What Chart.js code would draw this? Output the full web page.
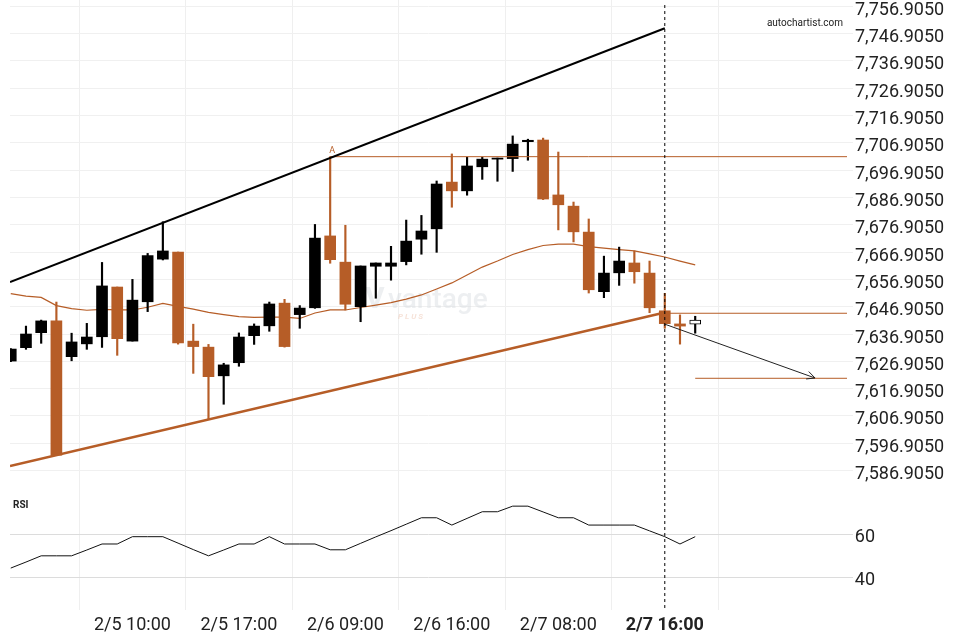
<!DOCTYPE html>
<html>
<head>
<meta charset="utf-8">
<script src="https://cdn.jsdelivr.net/npm/chart.js@4.4.1/dist/chart.umd.min.js"></script>
<style>
  html, body { margin: 0; padding: 0; background: #fff; }
  #wrap { width: 960px; height: 640px; }
</style>
</head>
<body>
<div id="wrap"><canvas id="chart" width="960" height="640"></canvas></div>
<script>
// hourly candles, index 0..45
const opens = [7627.0,7631.9,7637.4,7641.7,7628.6,7633.3,7635.9,7654.1,7634.3,7648.7,7664.3,7666.9,7634.3,7632.1,7621.6,7626.4,7636.3,7639.9,7648.2,7644.0,7646.5,7672.8,7663.2,7646.9,7661.7,7661.7,7663.4,7671.6,7675.4,7692.5,7689.3,7698.1,7700.9,7701.1,7707.3,7707.9,7687.8,7683.7,7674.2,7652.4,7659.3,7662.9,7659.2,7645.4,7640.6,7640.5];
const highs = [7631.6,7639.8,7642.0,7648.6,7637.2,7640.8,7663.1,7654.1,7656.9,7666.4,7678.0,7666.9,7640.5,7633.1,7626.2,7637.3,7640.6,7648.6,7649.6,7647.3,7677.0,7701.8,7676.7,7661.8,7662.9,7669.0,7678.6,7680.3,7692.9,7702.8,7701.6,7701.6,7701.3,7709.4,7708.2,7708.6,7703.5,7685.2,7679.0,7665.4,7668.7,7667.3,7663.6,7651.8,7643.9,7643.4];
const lows = [7626.8,7631.3,7633.5,7592.6,7627.1,7631.3,7632.0,7629.1,7634.3,7645.1,7664.0,7633.2,7622.5,7605.8,7611.2,7625.1,7633.1,7637.9,7632.1,7639.0,7646.3,7662.8,7645.7,7641.4,7650.0,7656.6,7662.2,7666.1,7666.8,7683.3,7687.7,7693.5,7692.8,7696.4,7700.5,7686.1,7675.0,7670.6,7651.9,7650.2,7654.7,7655.5,7644.7,7639.0,7633.2,7637.2];
const closes = [7631.4,7636.9,7641.7,7592.6,7634.0,7635.8,7654.5,7635.2,7649.3,7665.6,7667.3,7633.6,7632.3,7621.3,7625.6,7635.8,7639.8,7647.9,7632.3,7646.4,7672.0,7664.1,7647.8,7661.8,7662.9,7662.9,7670.9,7674.6,7691.8,7689.3,7698.4,7700.9,7701.3,7706.4,7707.8,7686.3,7684.2,7674.3,7653.1,7659.2,7663.6,7659.7,7646.5,7640.7,7639.8,7642.0];

// moving average and RSI
const maValues = [7651.7,7650.8,7650.3,7647.3,7646.2,7645.6,7645.9,7645.7,7645.7,7646.7,7648.1,7647.0,7646.0,7644.8,7644.0,7643.3,7643.0,7643.1,7643.1,7642.6,7644.6,7645.7,7645.7,7646.6,7647.5,7648.4,7649.7,7651.2,7653.4,7655.6,7658.5,7661.4,7663.6,7666.0,7667.8,7669.3,7669.8,7669.8,7668.9,7668.3,7667.8,7667.3,7666.2,7665.1,7663.6,7662.2];
const rsiValues = [44.6,47.4,50.3,50.3,50.3,53.0,55.8,55.8,59.2,59.2,59.2,56.2,53.2,50.3,53.0,55.8,55.8,59.2,55.8,55.8,55.8,53.1,53.1,56.1,59.1,62.0,65.0,68.0,68.0,64.6,67.7,70.8,70.8,73.4,73.4,70.7,68.0,68.0,64.6,64.6,64.6,64.6,61.9,59.2,55.8,59.2];

// pattern lines
const resistanceLine = [{x: -0.05, y: 7655.9}, {x: 43, y: 7748.8}];
const supportLine = [{x: -0.05, y: 7588.6}, {x: 43, y: 7644.8}];
const pointA = {x: 21, y: 7701.8};
const priceLevel = 7644.5;
const targetLevel = 7620.7;
const forecastLine = [{x: 43, y: 7640.5}, {x: 52.88, y: 7620.8}];
const signalIndex = 43;

// axis ticks
const timeTickIdx = [8, 15, 22, 29, 36, 43];
const timeTickLabels = ['2/5 10:00', '2/5 17:00', '2/6 09:00', '2/6 16:00', '2/7 08:00', '2/7 16:00'];
const priceTicks = [7756.905, 7746.905, 7736.905, 7726.905, 7716.905, 7706.905, 7696.905, 7686.905, 7676.905, 7666.905, 7656.905, 7646.905, 7636.905, 7626.905, 7616.905, 7606.905, 7596.905, 7586.905];
const rsiTicks = [60, 40];

// view window
const xMin = -0.05, xMax = 54.98;
const priceMin = 7535.9, priceMax = 7759.14;
const rsiMin = 25.1, rsiMax = 308.8;

const ORANGE = '#b65d27';
const lastIdx = opens.length - 1;

function candleColor(i) {
    if (i === lastIdx) return '#fff';
    return closes[i] >= opens[i] ? '#000' : ORANGE;
}

const bodies = opens.map((o, i) => ({x: i, y: [o, closes[i]]}));
const wicks = lows.map((l, i) => ({x: i, y: [l, highs[i]]}));
const ma = maValues.map((v, i) => ({x: i, y: v}));
const rsi = rsiValues.map((v, i) => ({x: i, y: v}));

// no extra room for edge labels, the plot fills the canvas
function noPadding(s) {
    s.paddingTop = 0;
    s.paddingBottom = 0;
    s.paddingLeft = 0;
    s.paddingRight = 0;
}

const overlay = {
    id: 'overlay',
    beforeDatasetsDraw(chart) {
        const c = chart.ctx;
        c.save();
        // watermark
        c.fillStyle = 'rgba(215,220,223,0.45)';
        c.font = 'bold 30px Roboto';
        c.textBaseline = 'alphabetic';
        c.fillText('V', 365, 308);
        c.font = '500 28px Roboto';
        c.fillText('vantage', 388, 308);
        c.fillStyle = 'rgba(240,200,180,0.5)';
        c.font = 'italic bold 8px Roboto';
        c.fillText('P L U S', 398, 319);
        c.restore();
    },
    afterDatasetsDraw(chart) {
        const c = chart.ctx;
        const xs = chart.scales.x, ys = chart.scales.y;
        c.save();
        // arrow head on forecast line
        const pts = chart.getDatasetMeta(chart.data.datasets.findIndex(d => d.id === 'forecast')).data;
        const p0 = pts[0], p1 = pts[1];
        const ang = Math.atan2(p1.y - p0.y, p1.x - p0.x);
        c.strokeStyle = '#222';
        c.lineWidth = 1;
        c.beginPath();
        c.moveTo(p1.x - 9 * Math.cos(ang - 0.45), p1.y - 9 * Math.sin(ang - 0.45));
        c.lineTo(p1.x, p1.y);
        c.lineTo(p1.x - 9 * Math.cos(ang + 0.45), p1.y - 9 * Math.sin(ang + 0.45));
        c.stroke();
        // point A label
        c.fillStyle = ORANGE;
        c.font = '9px Roboto';
        c.textAlign = 'center';
        c.textBaseline = 'bottom';
        c.fillText('A', xs.getPixelForValue(pointA.x) + 2, ys.getPixelForValue(pointA.y) - 1);
        // captions
        c.fillStyle = '#222';
        c.font = '10px Roboto';
        c.textAlign = 'right';
        c.textBaseline = 'middle';
        c.fillText('autochartist.com', 843, 23);
        c.font = 'bold 10px Roboto';
        c.textAlign = 'left';
        c.fillText('RSI', 13, 505);
        c.restore();
    }
};

new Chart(document.getElementById('chart').getContext('2d'), {
    type: 'bar',
    data: {
        datasets: [{
            type: 'bar',
            data: wicks,
            grouped: false,
            barThickness: 1.5,
            backgroundColor: ctx => ctx.dataIndex === lastIdx ? '#000' : candleColor(ctx.dataIndex),
            borderWidth: 0,
            yAxisID: 'y',
            order: 3
        }, {
            type: 'bar',
            data: bodies,
            grouped: false,
            barThickness: 11,
            backgroundColor: ctx => candleColor(ctx.dataIndex),
            borderColor: '#000',
            borderWidth: ctx => ctx.dataIndex === lastIdx ? 1 : 0,
            borderSkipped: false,
            yAxisID: 'y',
            order: 2
        }, {
            type: 'line',
            data: ma,
            borderColor: ORANGE,
            borderWidth: 1.2,
            pointRadius: 0,
            yAxisID: 'y',
            order: 4
        }, {
            type: 'line',
            data: resistanceLine,
            borderColor: '#000',
            borderWidth: 2,
            pointRadius: 0,
            yAxisID: 'y',
            order: 1
        }, {
            type: 'line',
            data: supportLine,
            borderColor: ORANGE,
            borderWidth: 2.5,
            pointRadius: 0,
            yAxisID: 'y',
            order: 1
        }, {
            type: 'line',
            data: [{x: pointA.x, y: pointA.y}, {x: xMax, y: pointA.y}],
            borderColor: ORANGE,
            borderWidth: 1,
            pointRadius: 0,
            yAxisID: 'y',
            order: 1
        }, {
            type: 'line',
            data: [{x: signalIndex, y: priceLevel}, {x: xMax, y: priceLevel}],
            borderColor: ORANGE,
            borderWidth: 1,
            pointRadius: 0,
            yAxisID: 'y',
            order: 5
        }, {
            type: 'line',
            data: [{x: lastIdx, y: targetLevel}, {x: xMax, y: targetLevel}],
            borderColor: ORANGE,
            borderWidth: 1,
            pointRadius: 0,
            yAxisID: 'y',
            order: 1
        }, {
            id: 'forecast',
            type: 'line',
            data: forecastLine,
            borderColor: '#222',
            borderWidth: 1,
            pointRadius: 0,
            yAxisID: 'y',
            order: 1
        }, {
            type: 'line',
            data: [{x: signalIndex, y: 7757.3}, {x: signalIndex, y: priceMin}],
            borderColor: '#000',
            borderWidth: 1,
            borderDash: [3, 3],
            pointRadius: 0,
            yAxisID: 'y',
            order: 0
        }, {
            type: 'line',
            data: rsi,
            borderColor: '#111',
            borderWidth: 1,
            pointRadius: 0,
            yAxisID: 'y2',
            order: 1
        }]
    },
    options: {
        responsive: false,
        animation: false,
        layout: { padding: { left: 10, top: 0, right: 0, bottom: 0 } },
        plugins: {
            legend: { display: false },
            tooltip: { enabled: false }
        },
        scales: {
            x: {
                type: 'linear',
                min: xMin,
                max: xMax,
                offset: false,
                afterBuildTicks: s => { s.ticks = timeTickIdx.map(v => ({value: v})); },
                afterFit: s => { s.height = 30; noPadding(s); },
                ticks: {
                    autoSkip: false,
                    maxRotation: 0,
                    padding: 5,
                    color: '#222',
                    callback: v => timeTickLabels[timeTickIdx.indexOf(v)],
                    font: ctx => ({family: 'Roboto', size: 18, weight: ctx.index === 5 ? 'bold' : 'normal'})
                },
                grid: { color: '#efefef', drawTicks: false },
                border: { display: false }
            },
            y: {
                position: 'right',
                weight: 1,
                min: priceMin,
                max: priceMax,
                afterBuildTicks: s => { s.ticks = priceTicks.map(v => ({value: v})); },
                afterFit: s => { s.width = 113; noPadding(s); },
                ticks: {
                    padding: 2,
                    labelOffset: 4,
                    color: '#222',
                    font: {family: 'Roboto', size: 18},
                    callback: v => v.toLocaleString('en-US', {minimumFractionDigits: 4, maximumFractionDigits: 4})
                },
                grid: { color: '#f0f0f0', tickLength: 6 },
                border: { display: false }
            },
            y2: {
                position: 'right',
                weight: 0,
                min: rsiMin,
                max: rsiMax,
                afterBuildTicks: s => { s.ticks = rsiTicks.map(v => ({value: v})); },
                afterFit: s => { s.width = 0; noPadding(s); },
                ticks: {
                    // mirrored so the labels are not clipped to the zero-width box
                    mirror: true,
                    crossAlign: 'near',
                    padding: 28,
                    labelOffset: 3,
                    color: '#222',
                    font: {family: 'Roboto', size: 18}
                },
                grid: { color: '#dcdcdc', tickLength: 6 },
                border: { display: false }
            }
        }
    },
    plugins: [overlay]
});
</script>
</body>
</html>
